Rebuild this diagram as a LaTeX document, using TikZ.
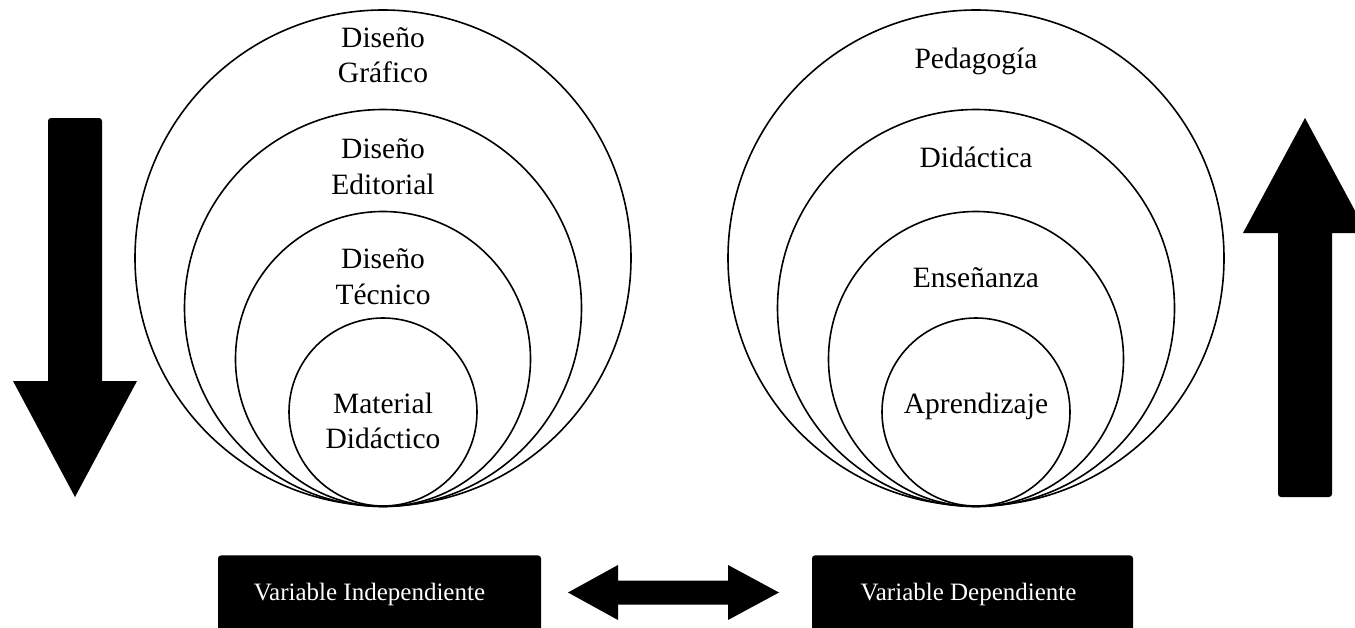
\documentclass[tikz,border=0pt]{standalone}
\usepackage{fontspec}
\setmainfont{Liberation Serif}
\begin{document}
\begin{tikzpicture}[x=0.5pt,y=-0.5pt,
  ring/.style={draw=black,line width=0.8pt},
  lbl/.style={anchor=base,inner sep=0pt,font=\fontsize{14.75pt}{18pt}\selectfont},
  varbox/.style={fill=black,text=white,rounded corners=1.5pt,anchor=north,
    minimum height=39pt,inner sep=0pt,font=\fontsize{12.5pt}{15pt}\selectfont},
  blockarrow/.style={fill=black}]
\useasboundingbox (0,0) rectangle (1355,627);
\clip (0,0) rectangle (1355,627);
% left nested circles
\draw[ring] (383,258) circle[radius=124pt];
\draw[ring] (383,308) circle[radius=99.25pt];
\draw[ring] (383,359) circle[radius=73.75pt];
\draw[ring] (383,412) circle[radius=47pt];
% right nested circles
\draw[ring] (976,258) circle[radius=124pt];
\draw[ring] (976,308) circle[radius=99.25pt];
\draw[ring] (976,359) circle[radius=73.75pt];
\draw[ring] (976,412) circle[radius=47pt];
% left labels
\node[lbl] (dg1) at (383,47) {Diseño};
\node[lbl] (dg2) at (383,82) {Gráfico};
\node[lbl] (de1) at (383,158) {Diseño};
\node[lbl] (de2) at (383,194) {Editorial};
\node[lbl] (dt1) at (383,268) {Diseño};
\node[lbl] (dt2) at (383,304) {Técnico};
\node[lbl] (md1) at (383,413) {Material};
\node[lbl] (md2) at (383,448) {Didáctico};
% right labels
\node[lbl] (ped) at (976,68) {Pedagogía};
\node[lbl] (did) at (976,167) {Didáctica};
\node[lbl] (ens) at (976,287) {Enseñanza};
\node[lbl] (apr) at (976,413) {Aprendizaje};
% vertical block arrows
\fill[blockarrow] (48,300) [rounded corners=1.5pt] -- (48,118) -- (102,118) -- (102,300)
  [sharp corners] -- (102,381) -- (137,381) -- (75,497) -- (13,381) -- (48,381) -- cycle;
\fill[blockarrow] (1278,300) [rounded corners=1.5pt] -- (1278,497) -- (1332,497) -- (1332,300)
  [sharp corners] -- (1332,233) -- (1367,233) -- (1305,118) -- (1243,233) -- (1278,233) -- cycle;
% bottom boxes
\node[varbox,minimum width=161.5pt] (vi) at (379.5,555) {Variable Independiente\hspace*{10pt}};
\node[varbox,minimum width=160.5pt] (vd) at (972.5,555) {Variable Dependiente\hspace*{4pt}};
% double block arrow
\coordinate (dl) at (568,592.5);
\coordinate (dr) at (779,592.5);
\fill[blockarrow] (dl) -- (618,565) -- (618,580.5) -- (728,580.5) -- (728,565) -- (dr)
  -- (728,620) -- (728,604.5) -- (618,604.5) -- (618,620) -- cycle;
\end{tikzpicture}
\end{document}
